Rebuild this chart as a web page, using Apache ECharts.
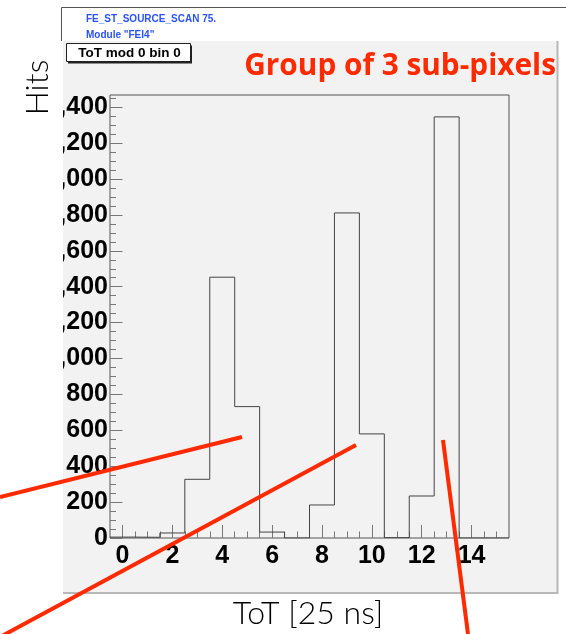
<!DOCTYPE html>
<html>
<head>
<meta charset="utf-8">
<title>ToT mod 0 bin 0</title>
<script src="https://cdn.jsdelivr.net/npm/echarts@6/dist/echarts.min.js"></script>
<style>
  html, body { margin: 0; padding: 0; background: #ffffff; }
  #chart { width: 566px; height: 634px; }
</style>
</head>
<body>
<div id="chart"></div>
<script>
// ToT histogram bins (units of 25 ns) and hit counts per bin
const totBins = [0, 1, 2, 3, 4, 5, 6, 7, 8, 9, 10, 11, 12, 13, 14, 15];
const hits = [5, 4, 28, 327, 1453, 732, 33, 0, 184, 1811, 580, 2, 234, 2346, 0, 0];

// Axis tick values
const xMajorTicks = [0, 2, 4, 6, 8, 10, 12, 14];
const xMinorTicks = [0.5, 1, 1.5, 2.5, 3, 3.5, 4.5, 5, 5.5, 6.5, 7, 7.5, 8.5, 9, 9.5,
                     10.5, 11, 11.5, 12.5, 13, 13.5, 14.5, 15];
const yMajorTicks = [0, 200, 400, 600, 800, 1000, 1200, 1400, 1600, 1800, 2000, 2200, 2400];
const yMinorTicks = [50, 100, 150, 250, 300, 350, 450, 500, 550, 650, 700, 750, 850, 900, 950,
                     1050, 1100, 1150, 1250, 1300, 1350, 1450, 1500, 1550, 1650, 1700, 1750,
                     1850, 1900, 1950, 2050, 2100, 2150, 2250, 2300, 2350, 2450];

const binWidth = 1;
const xMin = totBins[0] - binWidth / 2;
const xMax = totBins[totBins.length - 1] + binWidth / 2;
const yMax = 2468;

// Histogram outline: one point per lower bin edge plus the last upper edge
const outline = totBins.map((c, i) => [c - binWidth / 2, hits[i]]);
outline.push([xMax, hits[hits.length - 1]]);

const RED = '#ff2a00';
const TICK = '#777777';
const labelFont = { fontFamily: '"Liberation Sans", Arial, sans-serif', fontWeight: 'bold', fontSize: 25, color: '#000' };
const frameRect = { left: 110, top: 95, width: 399, height: 443, outerBoundsMode: 'none' };
const hiddenLine = { show: false, onZero: false };

const chart = echarts.init(document.getElementById('chart'), null, { renderer: 'canvas' });

chart.setOption({
  animation: false,
  backgroundColor: '#ffffff',
  grid: [
    // frame holding the histogram and the major ticks
    Object.assign({ show: true, backgroundColor: '#f2f2f2', borderColor: '#555555', borderWidth: 1 }, frameRect),
    // same frame, carries the minor ticks only
    Object.assign({ show: false }, frameRect)
  ],
  xAxis: [
    {
      gridIndex: 0, type: 'value', min: xMin, max: xMax, position: 'bottom',
      axisLine: hiddenLine,
      splitLine: { show: false },
      axisTick: { show: true, inside: true, length: 13, customValues: xMajorTicks, lineStyle: { color: TICK } },
      axisLabel: Object.assign({ margin: 6, customValues: xMajorTicks }, labelFont)
    },
    {
      gridIndex: 1, type: 'value', min: xMin, max: xMax, position: 'bottom',
      axisLine: hiddenLine,
      splitLine: { show: false },
      axisTick: { show: true, inside: true, length: 6.5, customValues: xMinorTicks, lineStyle: { color: TICK } },
      axisLabel: { show: false }
    }
  ],
  yAxis: [
    {
      gridIndex: 0, type: 'value', min: 0, max: yMax, position: 'left',
      axisLine: hiddenLine,
      splitLine: { show: false },
      axisTick: { show: true, inside: true, length: 12.5, customValues: yMajorTicks, lineStyle: { color: TICK } },
      axisLabel: Object.assign({ margin: 2, customValues: yMajorTicks }, labelFont)
    },
    {
      gridIndex: 1, type: 'value', min: 0, max: yMax, position: 'left',
      axisLine: hiddenLine,
      splitLine: { show: false },
      axisTick: { show: true, inside: true, length: 6, customValues: yMinorTicks, lineStyle: { color: TICK } },
      axisLabel: { show: false }
    }
  ],
  series: [{
    type: 'line',
    xAxisIndex: 0, yAxisIndex: 0,
    data: outline,
    step: 'end',
    symbol: 'none',
    lineStyle: { color: '#444444', width: 1 },
    z: 3
  }],
  graphic: [
    // canvas pad
    { type: 'rect', z: -1, silent: true, shape: { x: 63, y: 41, width: 494, height: 551 }, style: { fill: '#f2f2f2' } },
    { type: 'polyline', z: -1, silent: true, shape: { points: [[557.5, 41], [557.5, 593], [63, 593]] }, style: { stroke: '#b8b8b8', lineWidth: 2, fill: null } },
    // run info box
    { type: 'polyline', z: -1, silent: true, shape: { points: [[61.5, 41], [61.5, 7.5], [566, 7.5]] }, style: { stroke: '#555555', lineWidth: 1, fill: null } },
    { type: 'text', z: 5, silent: true, x: 86, y: 19, style: { text: 'FE_ST_SOURCE_SCAN 75.', fill: '#2a52ff', font: 'bold 10px "Liberation Sans", Arial, sans-serif', verticalAlign: 'middle' } },
    { type: 'text', z: 5, silent: true, x: 86, y: 35, style: { text: 'Module "FEI4"', fill: '#2a52ff', font: 'bold 10px "Liberation Sans", Arial, sans-serif', verticalAlign: 'middle' } },
    // histogram name box
    { type: 'rect', z: 5, silent: true, shape: { x: 68, y: 45.5, width: 124, height: 18 }, style: { fill: '#222222' } },
    { type: 'rect', z: 6, silent: true, shape: { x: 66.5, y: 43.5, width: 124, height: 18 }, style: { fill: '#ffffff', stroke: '#222222', lineWidth: 1 } },
    { type: 'text', z: 7, silent: true, x: 129.5, y: 53, style: { text: 'ToT mod 0 bin 0', fill: '#000', font: 'bold 13.5px "Liberation Sans", Arial, sans-serif', align: 'center', verticalAlign: 'middle' } },
    // title
    { type: 'text', z: 7, silent: true, x: 556, y: 67, style: { text: 'Group of 3 sub-pixels', fill: RED, font: 'bold 29.8px "Open Sans", Lato, sans-serif', align: 'right', verticalAlign: 'middle' } },
    // pad edge hides the left part of the wide tick labels
    { type: 'rect', z: 50, silent: true, shape: { x: 0, y: 90, width: 63, height: 470 }, style: { fill: '#ffffff' } },
    // axis titles
    { type: 'text', z: 55, silent: true, x: 38, y: 87.5, rotation: Math.PI / 2, style: { text: 'Hits', fill: '#000', font: '300 32px Lato, "Open Sans", sans-serif', align: 'center', verticalAlign: 'middle' } },
    { type: 'text', z: 55, silent: true, x: 308, y: 614, style: { text: 'ToT [25 ns]', fill: '#000', font: '300 32px Lato, "Open Sans", sans-serif', align: 'center', verticalAlign: 'middle' } },
    // pointer lines
    { type: 'line', z: 60, silent: true, shape: { x1: 0, y1: 497, x2: 242, y2: 437 }, style: { stroke: RED, lineWidth: 4 } },
    { type: 'line', z: 60, silent: true, shape: { x1: 0, y1: 637, x2: 356, y2: 445 }, style: { stroke: RED, lineWidth: 4 } },
    { type: 'line', z: 60, silent: true, shape: { x1: 443, y1: 440, x2: 468, y2: 634 }, style: { stroke: RED, lineWidth: 4 } }
  ]
});
</script>
</body>
</html>
